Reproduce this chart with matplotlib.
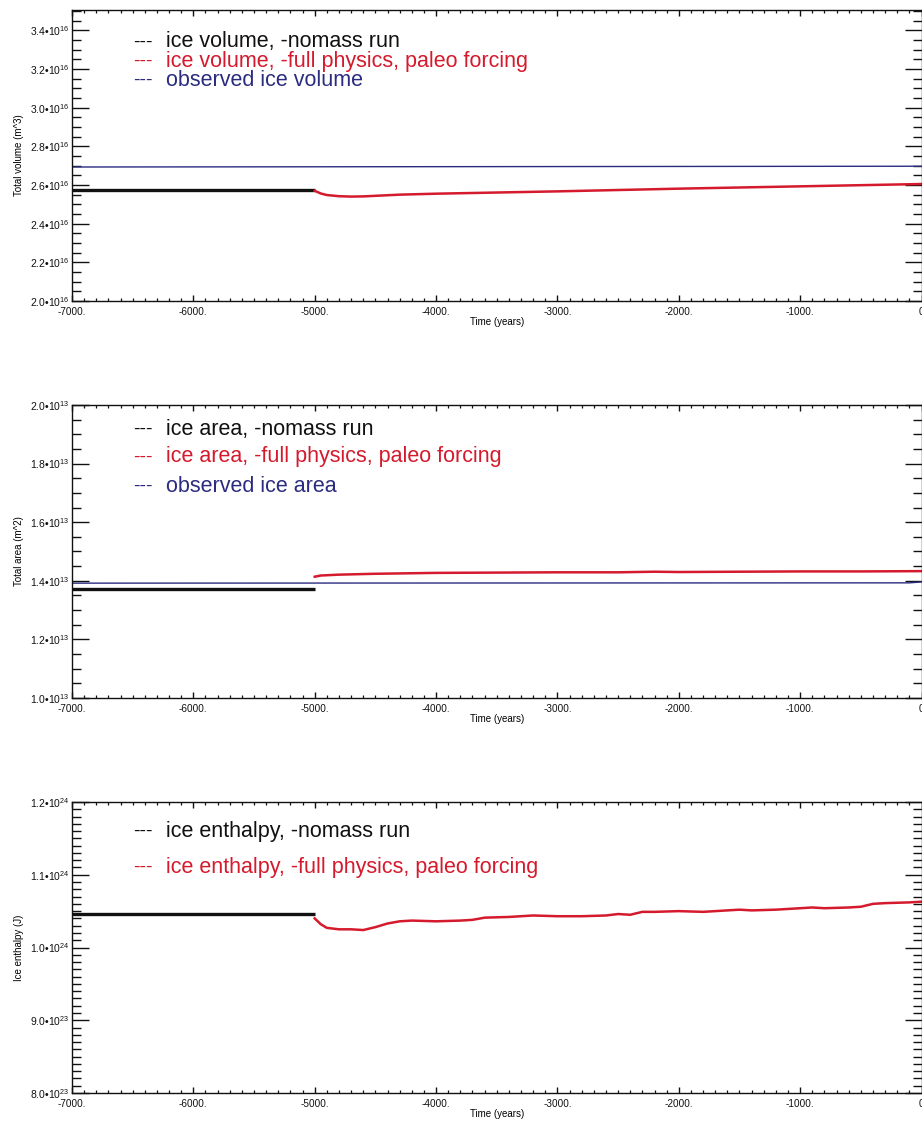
import matplotlib
matplotlib.use("Agg")
import matplotlib.pyplot as plt
from matplotlib.ticker import MultipleLocator, FixedLocator, FuncFormatter

plt.rcParams['font.family'] = ['Liberation Sans', 'DejaVu Sans']
plt.rcParams['mathtext.fontset'] = 'custom'
plt.rcParams['mathtext.rm'] = 'Liberation Sans'
plt.rcParams['mathtext.it'] = 'Liberation Sans'

# ---------------- data ----------------
# Panel 1: total volume (units of 1e16 m^3)
vol_nomass_years = [-7000, -5000]
vol_nomass = [2.575, 2.575]
vol_obs_years = [-7000, 0]
vol_obs = [2.693, 2.697]
vol_full_years = [-5000, -4950, -4900, -4800, -4700, -4600, -4500, -4300, -4000,
                  -3500, -3000, -2500, -2000, -1500, -1000, -500, 0]
vol_full = [2.570, 2.556, 2.548, 2.542, 2.540, 2.541, 2.544, 2.550, 2.555,
            2.561, 2.567, 2.574, 2.581, 2.587, 2.593, 2.599, 2.605]

# Panel 2: total area (units of 1e13 m^2)
area_nomass_years = [-7000, -5000]
area_nomass = [1.372, 1.372]
area_obs_years = [-7000, -100, 0]
area_obs = [1.392, 1.393, 1.396]
area_full_years = [-5000, -4950, -4800, -4500, -4000, -3500, -3000, -2500, -2200,
                   -2000, -1500, -1000, -500, 0]
area_full = [1.414, 1.418, 1.421, 1.424, 1.427, 1.428, 1.429, 1.429, 1.431,
             1.430, 1.431, 1.432, 1.432, 1.433]

# Panel 3: ice enthalpy (units of 1e24 J)
enth_nomass_years = [-7000, -5000]
enth_nomass = [1.0455, 1.0455]
enth_full_years = [-5000, -4950, -4900, -4800, -4700, -4600, -4500, -4400, -4300,
                   -4200, -4000, -3800, -3700, -3600, -3400, -3200, -3000, -2800,
                   -2600, -2500, -2400, -2300, -2200, -2000, -1800, -1700, -1500,
                   -1400, -1200, -1000, -900, -800, -600, -500, -400, -300, -100, 0]
enth_full = [1.040, 1.032, 1.027, 1.025, 1.025, 1.024, 1.028, 1.033, 1.036,
             1.037, 1.036, 1.037, 1.038, 1.041, 1.042, 1.044, 1.043, 1.043,
             1.044, 1.046, 1.045, 1.049, 1.049, 1.050, 1.049, 1.050, 1.052,
             1.051, 1.052, 1.054, 1.055, 1.054, 1.055, 1.056, 1.060, 1.061, 1.062, 1.063]

x_ticks = [-7000, -6000, -5000, -4000, -3000, -2000, -1000, 0]
x_tick_labels = ['-7000.', '-6000.', '-5000.', '-4000.', '-3000.', '-2000.', '-1000.', '0']

legend_vol = ['ice volume, -nomass run', 'ice volume, -full physics, paleo forcing',
              'observed ice volume']
legend_area = ['ice area, -nomass run', 'ice area, -full physics, paleo forcing',
               'observed ice area']
legend_enth = ['ice enthalpy, -nomass run', 'ice enthalpy, -full physics, paleo forcing']

BLACK = '#111111'
RED = '#d41a2c'
BLUE = '#2b2c80'

W, H = 922, 1122
fig = plt.figure(figsize=(W / 100, H / 100), dpi=100)


def px_axes(left, top, right, bottom):
    return fig.add_axes([left / W, 1 - bottom / H, (right - left) / W, (bottom - top) / H])


def sci_fmt(exp):
    def f(v, pos):
        return '%.1f\u202210$^{%d}$' % (v, exp)
    return f


def style(ax, ylim, ymaj, ymin, exp, ylabel):
    ax.set_xlim(-7000, 0)
    ax.set_ylim(*ylim)
    ax.xaxis.set_major_locator(FixedLocator(x_ticks))
    ax.set_xticklabels(x_tick_labels)
    ax.xaxis.set_minor_locator(MultipleLocator(100))
    ax.yaxis.set_major_locator(MultipleLocator(ymaj))
    ax.yaxis.set_minor_locator(MultipleLocator(ymin))
    ax.yaxis.set_major_formatter(FuncFormatter(sci_fmt(exp)))
    ax.tick_params(axis='both', which='both', direction='in', top=True, right=True,
                   colors='#111111')
    ax.tick_params(axis='y', which='major', length=12.2, width=1.0, pad=2, labelsize=7.5)
    ax.tick_params(axis='y', which='minor', length=6.5, width=1.0)
    ax.tick_params(axis='x', which='major', length=4.5, width=1.0, pad=4.5, labelsize=7.2)
    ax.tick_params(axis='x', which='minor', length=2.2, width=0.9)
    for s in ax.spines.values():
        s.set_linewidth(1.0)
        s.set_color('#111111')
    ax.set_xlabel('Time (years)', fontsize=7, labelpad=0)
    ax.set_ylabel(ylabel, fontsize=7, labelpad=4)


def legend(lines, x_dash, x_text, ys, colors):
    for txt, y, c in zip(lines, ys, colors):
        fig.text(x_dash / W, 1 - y / H, '---', color=c, fontsize=14, va='center')
        fig.text(x_text / W, 1 - y / H, txt, color=c, fontsize=15.5, va='center')


# Panel 1
ax1 = px_axes(72, 10, 921.5, 301)
ax1.plot(vol_obs_years, vol_obs, color=BLUE, lw=1.0)
ax1.plot(vol_nomass_years, vol_nomass, color=BLACK, lw=2.4, solid_capstyle='butt')
ax1.plot(vol_full_years, vol_full, color=RED, lw=1.8)
style(ax1, (2.0, 3.505), 0.2, 0.05, 16, 'Total volume (m^3)')
legend(legend_vol, 133, 166, [42, 61, 80], [BLACK, RED, BLUE])

# Panel 2
ax2 = px_axes(72, 405, 921.5, 698)
ax2.plot(area_obs_years, area_obs, color=BLUE, lw=1.0)
ax2.plot(area_nomass_years, area_nomass, color=BLACK, lw=2.4, solid_capstyle='butt')
ax2.plot(area_full_years, area_full, color=RED, lw=1.8)
style(ax2, (1.0, 2.0), 0.2, 0.05, 13, 'Total area (m^2)')
legend(legend_area, 133, 166, [429, 457, 486], [BLACK, RED, BLUE])

# Panel 3
ax3 = px_axes(72, 802, 921.5, 1093)
ax3.plot(enth_nomass_years, enth_nomass, color=BLACK, lw=2.4, solid_capstyle='butt')
ax3.plot(enth_full_years, enth_full, color=RED, lw=1.8)
style(ax3, (0.8, 1.2), 0.1, 0.01, 24, 'Ice enthalpy (J)')
ax3.yaxis.set_major_formatter(FuncFormatter(
    lambda v, p: ('%.1f\u202210$^{%d}$' % (v * 10, 23)) if v < 0.95 else ('%.1f\u202210$^{%d}$' % (v, 24))))
legend(legend_enth, 133, 166, [831, 867], [BLACK, RED])

fig.savefig('out.png', dpi=100, facecolor='white')
